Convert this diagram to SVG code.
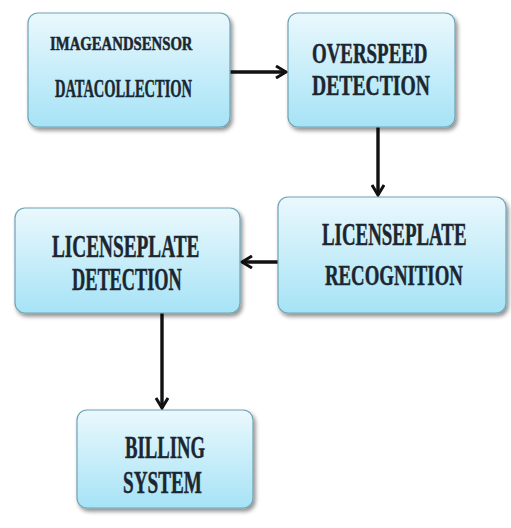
<svg xmlns="http://www.w3.org/2000/svg" width="511" height="528" viewBox="0 0 511 528">
<defs>
<linearGradient id="g" x1="0" y1="0" x2="0" y2="1">
<stop offset="0" stop-color="#eaf8fd"/>
<stop offset="1" stop-color="#a6e3f6"/>
</linearGradient>
<filter id="sh" x="-10%" y="-10%" width="125%" height="130%">
<feGaussianBlur in="SourceAlpha" stdDeviation="2"/>
<feOffset dx="2" dy="3"/>
<feComponentTransfer><feFuncA type="linear" slope="0.45"/></feComponentTransfer>
<feMerge><feMergeNode/><feMergeNode in="SourceGraphic"/></feMerge>
</filter>
<marker id="ah" viewBox="0 0 14 14" refX="12" refY="7" markerWidth="14" markerHeight="14" markerUnits="userSpaceOnUse" orient="auto">
<path d="M2,1 L12,7 L2,13" fill="none" stroke="#111" stroke-width="3" stroke-linejoin="miter"/>
</marker>
</defs>
<style>
.box{fill:url(#g);stroke:#6fa3b3;stroke-width:1.2;filter:url(#sh)}
.t{font-family:"Liberation Serif","Times New Roman",serif;font-weight:bold;fill:#1c2630;stroke:#1c2630;stroke-width:0.5}
.c{stroke:#111;stroke-width:3.4;fill:none;marker-end:url(#ah)}
</style>
<rect width="511" height="528" fill="#ffffff"/>
<g id="connectors">
<line class="c" x1="230" y1="72" x2="286" y2="72"/>
<line class="c" x1="378" y1="127" x2="378" y2="195"/>
<line class="c" x1="278" y1="262" x2="242" y2="262"/>
<line class="c" x1="162" y1="313" x2="162" y2="408"/>
</g>
<g id="n1">
<rect class="box" x="28" y="13" width="202" height="114" rx="10"/>
<text class="t" transform="translate(50,50) scale(0.82,1)" font-size="18">IMAGEANDSENSOR</text>
<text class="t" transform="translate(55,97) scale(0.557,1)" font-size="26">DATACOLLECTION</text>
</g>
<g id="n2">
<rect class="box" x="288" y="13" width="167" height="114" rx="10"/>
<text class="t" transform="translate(312,63) scale(0.63,1)" font-size="30">OVERSPEED</text>
<text class="t" transform="translate(312,95) scale(0.655,1)" font-size="30">DETECTION</text>
</g>
<g id="n3">
<rect class="box" x="278" y="197" width="228" height="116" rx="10"/>
<text class="t" transform="translate(322,245) scale(0.6,1)" font-size="31.5">LICENSEPLATE</text>
<text class="t" transform="translate(325,285) scale(0.627,1)" font-size="30">RECOGNITION</text>
</g>
<g id="n4">
<rect class="box" x="15" y="208" width="225" height="105" rx="10"/>
<text class="t" transform="translate(52,257) scale(0.622,1)" font-size="31">LICENSEPLATE</text>
<text class="t" transform="translate(72,290) scale(0.59,1)" font-size="31">DETECTION</text>
</g>
<g id="n5">
<rect class="box" x="77" y="410" width="176" height="98" rx="10"/>
<text class="t" transform="translate(125,458) scale(0.584,1)" font-size="32">BILLING</text>
<text class="t" transform="translate(123,493) scale(0.6,1)" font-size="32">SYSTEM</text>
</g>
</svg>
